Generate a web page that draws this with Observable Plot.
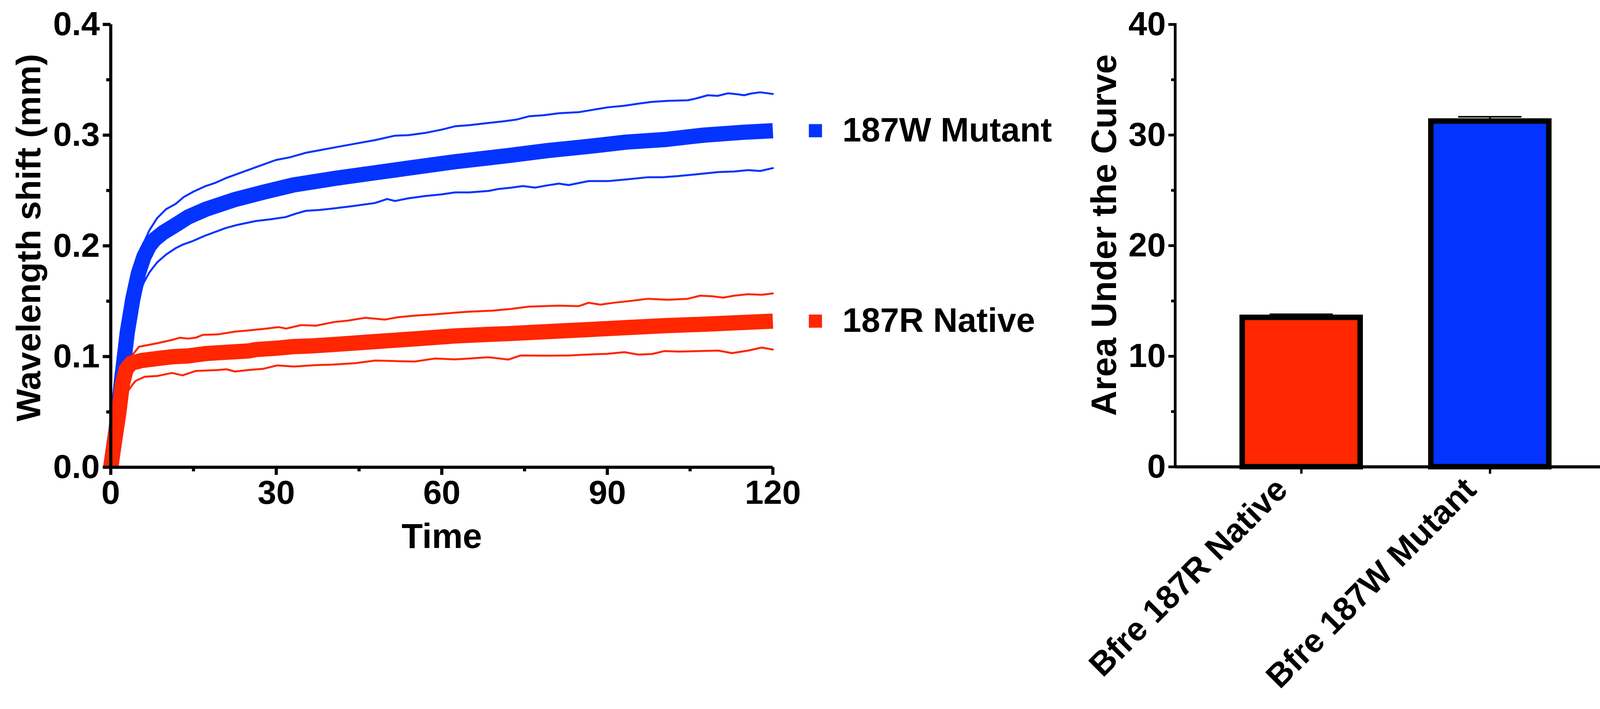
<!DOCTYPE html>
<html><head><meta charset="utf-8">
<script src="https://cdn.jsdelivr.net/npm/d3@7"></script>
<script src="https://cdn.jsdelivr.net/npm/@observablehq/plot@0.6"></script>
<style>
html,body{margin:0;padding:0;background:#fff;}
#wrap{display:flex;width:4161px;height:1814px;overflow:hidden;background:#fff;}
#wrap svg{display:block;flex:none;}
</style></head><body><div id="wrap"></div>
<script>
// ---------- data ----------
const seriesNames = ["187W Mutant", "187R Native"];
const seriesColors = ["#0433FF", "#FF2600"];

// [time, wavelength shift (mm)]
const mutantMean = [[0,0],[1,0.035],[2,0.08],[3,0.122],[4,0.152],[5,0.175],[6,0.19],[7,0.2],[8,0.206],[9.5,0.212],[11.8,0.219],[14,0.226],[17.2,0.233],[22.3,0.2415],[27.7,0.2485],[33.1,0.255],[40.7,0.261],[47.9,0.266],[55.1,0.271],[62.4,0.276],[68.5,0.2795],[72,0.2815],[79.1,0.286],[86.2,0.2896],[93.4,0.2937],[100.4,0.296],[107.5,0.3],[114.7,0.3026],[120,0.304]];
const mutantUpper = [[0,0],[2,0.085],[4,0.165],[5,0.188],[6,0.203],[7,0.214],[8.4,0.225],[10,0.233],[11.8,0.238],[13.2,0.244],[15,0.249],[17.2,0.254],[19,0.257],[20.8,0.261],[23.5,0.266],[26.3,0.271],[29.9,0.2775],[32.5,0.28],[35.3,0.284],[38,0.2865],[40.7,0.289],[44,0.292],[47.9,0.2955],[51.5,0.2995],[54,0.3],[57,0.302],[60,0.305],[62.4,0.308],[65,0.309],[68.5,0.311],[71.4,0.3126],[73.5,0.314],[75.8,0.317],[78.5,0.318],[81.2,0.3198],[84.8,0.3207],[87.5,0.323],[90.2,0.3252],[93,0.3265],[95.6,0.3284],[98,0.33],[101,0.331],[104.6,0.3315],[106,0.333],[108.2,0.336],[110,0.3355],[111.9,0.3378],[113.5,0.337],[114.8,0.336],[116,0.3375],[117.7,0.3387],[120,0.3372]];
const mutantLower = [[0,0],[2,0.07],[4,0.135],[5,0.155],[6,0.167],[7,0.176],[8.4,0.185],[10,0.192],[11.8,0.198],[13,0.201],[14.7,0.204],[17,0.209],[20.8,0.216],[23,0.219],[26.3,0.2224],[29,0.224],[31.7,0.226],[33.5,0.229],[35.3,0.2316],[38,0.2325],[40.7,0.234],[44,0.236],[47.9,0.2387],[50.1,0.2423],[51.5,0.2405],[54,0.243],[57,0.245],[60,0.2465],[62.4,0.2483],[65,0.2483],[68.5,0.2496],[70.3,0.2514],[72.5,0.2525],[74.7,0.254],[76.9,0.2526],[79,0.2545],[81.2,0.2562],[83,0.2549],[86.6,0.2585],[90.2,0.2585],[93.5,0.26],[97.4,0.262],[100,0.262],[102.8,0.263],[106.5,0.2648],[110.1,0.2666],[113,0.2672],[115.5,0.2684],[117.7,0.2676],[120,0.2702]];

const nativeMean = [[0,0],[0.7,0.024],[1.43,0.048],[2.1,0.075],[2.8,0.0885],[3.7,0.094],[5.6,0.0964],[8.4,0.0982],[11.1,0.0998],[13.9,0.1005],[17.2,0.1027],[19.4,0.1034],[24.9,0.105],[26.3,0.1063],[30.4,0.1077],[33.1,0.109],[36,0.1095],[40.7,0.111],[47.9,0.1135],[55.1,0.116],[62.4,0.1186],[68.5,0.12],[72,0.1207],[79.1,0.1225],[86.2,0.1243],[93.4,0.1261],[100.4,0.1279],[107.5,0.1292],[114.7,0.1308],[120,0.132]];
const nativeUpper = [[0,0],[1,0.035],[2,0.072],[3,0.092],[3.7,0.1],[5.1,0.1088],[8.4,0.112],[11.1,0.115],[12.5,0.117],[14,0.1162],[15.4,0.117],[16.7,0.1196],[19.4,0.12],[22.5,0.1225],[24.9,0.1236],[27.7,0.125],[30.4,0.1266],[31.8,0.1253],[34.5,0.1284],[37.2,0.1279],[40.5,0.1312],[43,0.1325],[46.1,0.135],[49.7,0.1334],[52,0.1355],[55.1,0.137],[58.5,0.138],[62.4,0.1396],[64.9,0.1405],[69.2,0.1415],[72.5,0.143],[75.8,0.1451],[78.5,0.1455],[81.2,0.146],[84.8,0.1455],[86.6,0.1486],[88.7,0.1469],[91,0.1485],[93.8,0.15],[97.4,0.1522],[101,0.1513],[104.6,0.1522],[106.8,0.155],[109,0.1545],[111,0.1532],[113,0.155],[115.5,0.1563],[118,0.1558],[120,0.157]];
const nativeLower = [[0,0],[1,0.028],[2,0.055],[3,0.068],[4,0.075],[4.5,0.078],[6.2,0.0818],[8.4,0.0824],[11.1,0.0852],[13,0.083],[15.4,0.087],[19.4,0.0878],[21,0.0885],[22.5,0.0865],[24.9,0.0878],[27.7,0.089],[30.2,0.092],[33.2,0.091],[37,0.0922],[40.3,0.0928],[44.3,0.094],[47.9,0.0964],[51,0.096],[55.1,0.0955],[58.7,0.0982],[62.4,0.0974],[65,0.0982],[68.4,0.0994],[72.1,0.0973],[74.3,0.101],[79.1,0.1008],[83,0.101],[86.2,0.1018],[90,0.1025],[93.1,0.104],[95.6,0.1018],[98.1,0.1023],[100.3,0.1049],[103,0.1045],[106.5,0.1049],[110.1,0.1054],[112.6,0.1031],[115.5,0.1054],[118,0.1081],[120,0.1063]];

const timeTicksMajor = [0, 30, 60, 90, 120];
const timeTicksMinor = [15, 45, 75, 105];
const shiftTicksMajor = [0, 0.1, 0.2, 0.3, 0.4];
const shiftTicksMinor = [0.05, 0.15, 0.25, 0.35];

const barCategories = ["Bfre 187R Native", "Bfre 187W Mutant"];
const aucMeans = [13.5, 31.25];
const aucSem = [0.3, 0.4];
const barColors = ["#FF2600", "#0433FF"];
const aucTicksMajor = [0, 10, 20, 30, 40];
const aucTicksMinor = [5, 15, 25, 35];

// ---------- tables ----------
const rows = (pts, series) => pts.map(([t, v]) => ({t, v, series}));
const meanRows = [...rows(mutantMean, seriesNames[0]), ...rows(nativeMean, seriesNames[1])];
const barRows = barCategories.map((category, i) => ({category, auc: aucMeans[i], sem: aucSem[i]}));

const FONT = "'Liberation Sans', Arial, Helvetica, sans-serif";
const style = {fontFamily: FONT, fontWeight: "bold", color: "black", background: "white", overflow: "visible"};

// ---------- left: time course ----------
const left = Plot.plot({
  width: 2760, height: 1814,
  marginLeft: 283, marginRight: 782, marginTop: 62, marginBottom: 619,
  style,
  x: {domain: [0, 120]},
  y: {domain: [0, 0.4]},
  color: {domain: seriesNames, range: seriesColors},
  marks: [
    Plot.line(rows(mutantUpper, seriesNames[0]), {x: "t", y: "v", stroke: "series", strokeWidth: 5}),
    Plot.line(rows(mutantLower, seriesNames[0]), {x: "t", y: "v", stroke: "series", strokeWidth: 5}),
    Plot.line(rows(mutantMean, seriesNames[0]), {x: "t", y: "v", stroke: "series", strokeWidth: 39, strokeLinecap: "butt"}),
    Plot.line(rows(nativeUpper, seriesNames[1]), {x: "t", y: "v", stroke: "series", strokeWidth: 5}),
    Plot.line(rows(nativeLower, seriesNames[1]), {x: "t", y: "v", stroke: "series", strokeWidth: 5}),
    Plot.line(rows(nativeMean, seriesNames[1]), {x: "t", y: "v", stroke: "series", strokeWidth: 39, strokeLinecap: "butt"}),
    Plot.ruleX([0], {strokeWidth: 8}),
    Plot.ruleY([0], {strokeWidth: 8}),
    Plot.axisY({ticks: shiftTicksMajor, tickSize: 20, tickPadding: 8, tickFormat: d3.format(".1f"), strokeWidth: 8, fontSize: 86, label: null}),
    Plot.axisY({ticks: shiftTicksMinor, tickSize: 11, tickFormat: () => "", strokeWidth: 8, label: null}),
    Plot.axisX({ticks: timeTicksMajor, tickSize: 20, tickPadding: 12, strokeWidth: 8, fontSize: 86, label: null}),
    Plot.axisX({ticks: timeTicksMinor, tickSize: 11, tickFormat: () => "", strokeWidth: 8, label: null}),
    Plot.text(["Wavelength shift (mm)"], {text: d => d, frameAnchor: "left", textAnchor: "middle", rotate: -90, dx: -209, dy: -21, fontSize: 88}),
    Plot.text(["Time"], {text: d => d, frameAnchor: "bottom", lineAnchor: "top", dy: 143, fontSize: 89}),
    Plot.dot(meanRows, Plot.selectLast({x: "t", y: "v", z: "series", fill: "series", symbol: "square", r: 19, dx: 109})),
    Plot.text(meanRows, Plot.selectLast({x: "t", y: "v", z: "series", text: "series", dx: 178, textAnchor: "start", fontSize: 87, fill: "black"}))
  ]
});

// ---------- right: AUC bars ----------
const right = Plot.plot({
  width: 1401, height: 1814,
  marginLeft: 248, marginRight: 24, marginTop: 62, marginBottom: 620,
  style,
  x: {type: "band", domain: barCategories, paddingInner: 0.375, paddingOuter: 0.354},
  y: {domain: [0, 40]},
  color: {domain: barCategories, range: barColors},
  marks: [
    Plot.barY(barRows, {x: "category", y: "auc", fill: "category", stroke: "black", strokeWidth: 14}),
    Plot.ruleX(barRows, {x: "category", y1: "auc", y2: d => d.auc + d.sem, strokeWidth: 4}),
    Plot.tickY(barRows, {x: "category", y: d => d.auc + d.sem, strokeWidth: 4, inset: 70}),
    Plot.frame({anchor: "left", strokeWidth: 7}),
    Plot.ruleY([0], {strokeWidth: 8}),
    Plot.axisY({ticks: aucTicksMajor, tickSize: 17, tickPadding: 7, strokeWidth: 7, fontSize: 86, label: null}),
    Plot.axisY({ticks: aucTicksMinor, tickSize: 10, tickFormat: () => "", strokeWidth: 7, label: null}),
    Plot.axisX({tickSize: 18, tickFormat: () => "", strokeWidth: 6, label: null}),
    Plot.axisX({tickSize: 0, tickRotate: -45, tickPadding: 44, dx: -50, fontSize: 85, label: null}),
    Plot.text(["Area Under the Curve"], {text: d => d, frameAnchor: "left", textAnchor: "middle", rotate: -90, dx: -180, dy: -27, fontSize: 90})
  ]
});

const wrap = document.getElementById("wrap");
wrap.appendChild(left);
wrap.appendChild(right);
</script>
</body></html>
